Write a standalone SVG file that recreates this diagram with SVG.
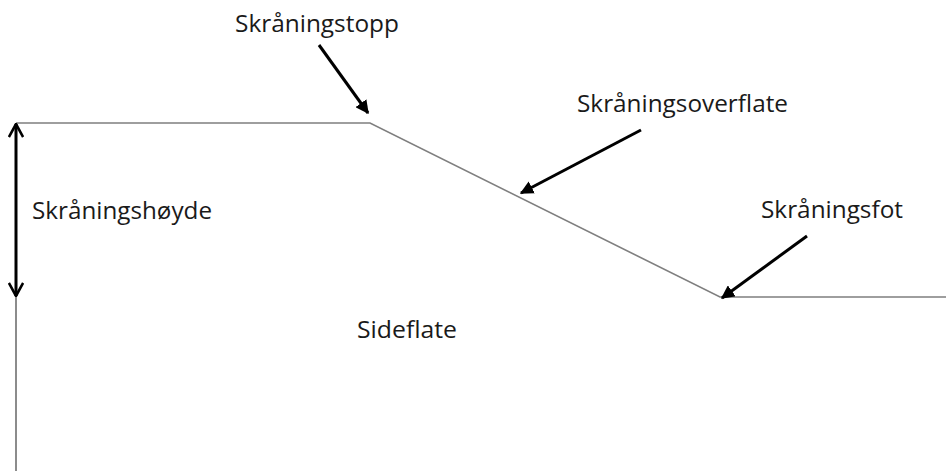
<svg xmlns="http://www.w3.org/2000/svg" width="946" height="471" viewBox="0 0 946 471">
  <style>
    .ground { fill: none; stroke: #7f7f7f; stroke-width: 1.6; }
    .wall { fill: none; stroke: #8c8c8c; stroke-width: 2; }
    .pointer { fill: none; stroke: #000; stroke-width: 3; }
    .label { font-family: "Open Sans", "Liberation Sans", sans-serif; font-size: 24px; fill: #1a1a1a; }
  </style>
  <defs>
    <marker id="solidHead" viewBox="0 0 10 10" refX="9" refY="5" markerWidth="4.5" markerHeight="4.5" orient="auto" markerUnits="strokeWidth">
      <path d="M0,0 L10,5 L0,10 z" fill="#000"/>
    </marker>
    <marker id="openHead" viewBox="0 0 12 12" refX="11" refY="6" markerWidth="5.5" markerHeight="5.5" orient="auto-start-reverse" markerUnits="strokeWidth">
      <path d="M1.5,0.8 L11,6 L1.5,11.2" fill="none" stroke="#000" stroke-width="1.9"/>
    </marker>
  </defs>

  <!-- terrain profile -->
  <g id="profile">
    <line class="wall" x1="16" y1="123" x2="16" y2="471"/>
    <polyline class="ground" points="16,123 370,123 720,297 946,297"/>
  </g>

  <!-- connectors -->
  <g id="connectors">
    <line class="pointer" x1="16" y1="124" x2="16" y2="296" marker-start="url(#openHead)" marker-end="url(#openHead)"/>
    <line class="pointer" x1="319" y1="45" x2="368" y2="113" marker-end="url(#solidHead)"/>
    <line class="pointer" x1="641" y1="130" x2="521" y2="193" marker-end="url(#solidHead)"/>
    <line class="pointer" x1="807" y1="236" x2="722" y2="298" marker-end="url(#solidHead)"/>
  </g>

  <g id="label-top">
    <text class="label" x="235" y="32" textLength="164" lengthAdjust="spacingAndGlyphs">Skråningstopp</text>
  </g>
  <g id="label-surface">
    <text class="label" x="577" y="112" textLength="211" lengthAdjust="spacingAndGlyphs">Skråningsoverflate</text>
  </g>
  <g id="label-height">
    <text class="label" x="32" y="219" textLength="180" lengthAdjust="spacingAndGlyphs">Skråningshøyde</text>
  </g>
  <g id="label-foot">
    <text class="label" x="761" y="218" textLength="142" lengthAdjust="spacingAndGlyphs">Skråningsfot</text>
  </g>
  <g id="label-side">
    <text class="label" x="357" y="338" textLength="100" lengthAdjust="spacingAndGlyphs">Sideflate</text>
  </g>
</svg>
